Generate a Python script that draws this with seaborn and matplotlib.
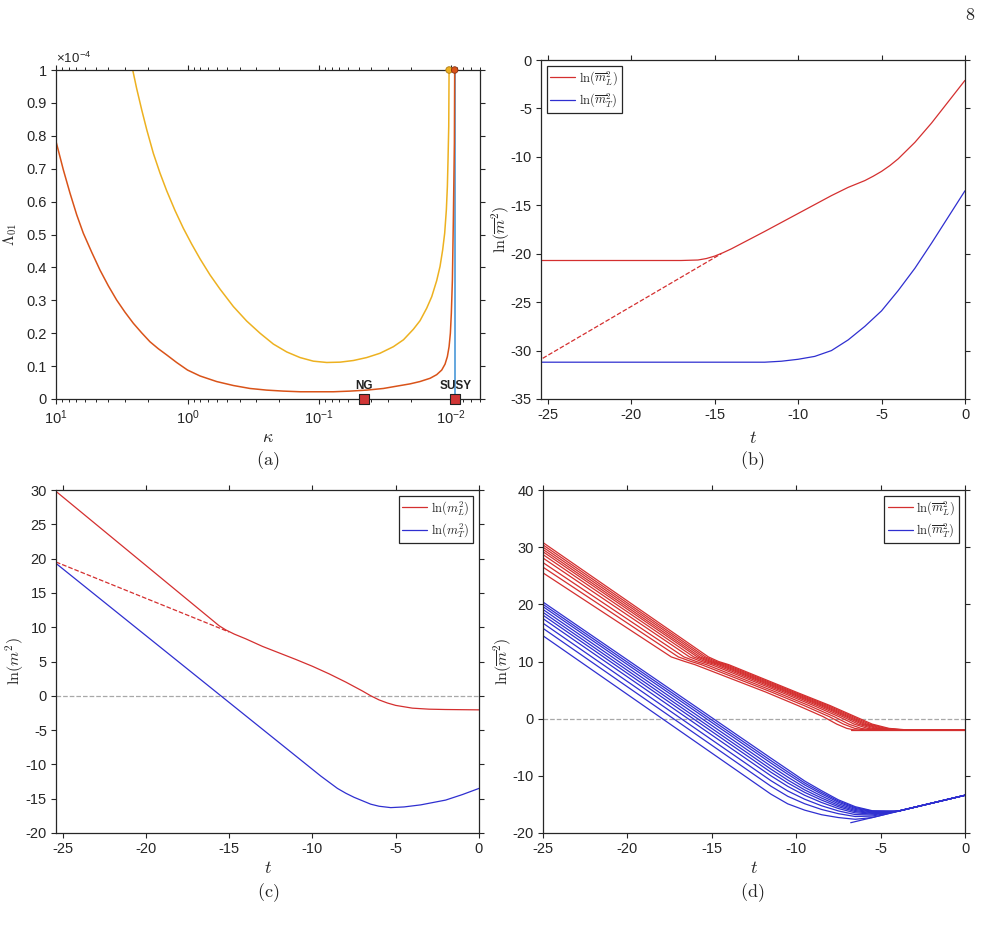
import numpy as np
import pandas as pd
import matplotlib
matplotlib.use('Agg')
import matplotlib.pyplot as plt
import seaborn as sns
from matplotlib.lines import Line2D
from matplotlib.ticker import LogLocator, FuncFormatter, NullFormatter

# ---------------- panel (a): Lambda_01 (x1e-4) vs kappa ----------------
kappa_orange = [10.0, 8.80, 7.83, 6.96, 6.20, 5.35, 4.63, 4.00, 3.46, 2.99, 2.58, 2.23,
                1.93, 1.67, 1.44, 1.21, 1.00, 0.803, 0.600, 0.448, 0.335, 0.250, 0.187,
                0.139, 0.1041, 0.0778, 0.0581, 0.0434, 0.0324, 0.0257, 0.0203, 0.0171,
                0.0143, 0.01274, 0.01167, 0.01101, 0.01057, 0.01026, 0.01003, 0.00986,
                0.00968, 0.00952, 0.00935, 0.00930]
lam_orange = [0.783, 0.697, 0.626, 0.560, 0.504, 0.446, 0.392, 0.344, 0.301, 0.264, 0.230,
              0.201, 0.174, 0.153, 0.134, 0.111, 0.088, 0.070, 0.053, 0.041, 0.032, 0.027,
              0.024, 0.022, 0.022, 0.022, 0.024, 0.027, 0.032, 0.039, 0.046, 0.053, 0.063,
              0.074, 0.088, 0.106, 0.129, 0.159, 0.200, 0.261, 0.362, 0.545, 0.778, 1.0]
kappa_yellow = [2.61, 2.44, 2.23, 2.04, 1.82, 1.62, 1.44, 1.245, 1.076, 0.930, 0.803,
                0.674, 0.566, 0.448, 0.355, 0.281, 0.2225, 0.176, 0.1395, 0.1104, 0.0874,
                0.0692, 0.0548, 0.0434, 0.0344, 0.0272, 0.0228, 0.01917, 0.01706, 0.01518,
                0.01390, 0.01274, 0.01202, 0.01148, 0.01108, 0.01076, 0.01057, 0.01045,
                0.01032, 0.01026]
lam_yellow = [1.0, 0.945, 0.879, 0.818, 0.747, 0.687, 0.633, 0.573, 0.519, 0.471, 0.426,
              0.377, 0.334, 0.281, 0.237, 0.200, 0.167, 0.143, 0.126, 0.115, 0.111, 0.112,
              0.117, 0.126, 0.139, 0.159, 0.180, 0.212, 0.238, 0.276, 0.311, 0.360, 0.403,
              0.453, 0.504, 0.575, 0.646, 0.727, 0.829, 1.0]
kappa_susy_line = [0.00920, 0.00920]
lam_susy_line = [0.0, 1.0]
kappa_points = [0.0452, 0.00920]
point_names = ['NG', 'SUSY']
kappa_dots = [0.01026, 0.00930]

# ---------------- panel (b) ----------------
t_b_red = [-25.4, -17, -16, -15.5, -15, -14.5, -14, -12, -10, -8, -7, -6.5, -6, -5.5, -5,
           -4.5, -4, -3, -2, -1, 0]
y_b_red = [-20.7, -20.7, -20.65, -20.5, -20.25, -19.9, -19.5, -17.7, -15.85, -14.0, -13.15,
           -12.8, -12.45, -12.0, -11.5, -10.9, -10.2, -8.5, -6.5, -4.3, -2.1]
t_b_dash = [-25.3, -14.6]
y_b_dash = [-30.8, -20.0]
t_b_blue = [-25.4, -12, -11, -10, -9, -8, -7, -6, -5, -4, -3, -2, -1, 0]
y_b_blue = [-31.2, -31.2, -31.1, -30.9, -30.6, -30.0, -28.9, -27.5, -25.9, -23.8, -21.5,
            -18.9, -16.2, -13.5]

# ---------------- panel (c) ----------------
t_c_red = [-25.4, -15.6, -15.2, -14.7, -14, -13, -11, -10, -9, -8, -7, -6.5, -6, -5.5, -5,
           -4, -3, -2, 0]
y_c_red = [29.8, 10.2, 9.6, 9.0, 8.3, 7.2, 5.3, 4.3, 3.2, 2.0, 0.7, 0.0, -0.6, -1.05, -1.4,
           -1.8, -1.95, -2.0, -2.05]
t_c_dash = [-25.4, -15.0]
y_c_dash = [19.5, 9.3]
t_c_blue = [-25.4, -9.5, -9, -8.5, -8, -7.5, -7, -6.5, -6, -5.3, -4.5, -3.5, -2, -1, 0]
y_c_blue = [19.3, -11.7, -12.6, -13.5, -14.2, -14.8, -15.3, -15.8, -16.1, -16.3, -16.2,
            -15.9, -15.2, -14.4, -13.5]

# ---------------- panel (d): families ----------------
red_d_start = [30.8, 30.4, 30.0, 29.6, 29.2, 28.7, 28.1, 27.3, 26.5, 25.5]
red_d_knot_y = [10.8, 10.0, 9.45, 4.65, 2.3, 0.35, -0.95, -1.7, -1.95, -2.0, -2.03]
red_d_knot_t = [
    [-15.20, -14.60, -14.00, -10.00, -8.00, -6.50, -5.50, -4.50, -3.50, -2.50, 0],
    [-15.37, -14.75, -14.15, -10.14, -8.14, -6.64, -5.66, -4.69, -3.73, -2.79, 0],
    [-15.53, -14.90, -14.30, -10.27, -8.29, -6.79, -5.82, -4.88, -3.97, -3.07, 0],
    [-15.70, -15.05, -14.45, -10.41, -8.43, -6.93, -5.97, -5.07, -4.20, -3.36, 0],
    [-15.86, -15.20, -14.60, -10.54, -8.57, -7.07, -6.13, -5.26, -4.44, -3.65, 0],
    [-16.07, -15.39, -14.79, -10.71, -8.75, -7.25, -6.33, -5.49, -4.73, -4.00, 0],
    [-16.32, -15.62, -15.02, -10.92, -8.97, -7.47, -6.57, -5.77, -5.08, -4.43, 0],
    [-16.65, -15.92, -15.32, -11.19, -9.25, -7.75, -6.89, -6.15, -5.55, -5.01, 0],
    [-16.98, -16.22, -15.62, -11.46, -9.54, -8.04, -7.20, -6.53, -6.01, -5.58, 0],
    [-17.40, -16.60, -16.00, -11.80, -9.90, -8.40, -7.60, -7.00, -6.60, -6.30, 0],
]
red_d_tail_t = [-6.77, 0]
red_d_tail_y = [-2.03, -2.03]

blue_d_t = [-25, -11.5, -10.5, -9.5, -8.5, -7.5, -6.5, -5.5, -4.0, -2.0, 0]
blue_d_y = [
    [20.4, -6.90, -8.90, -10.90, -12.60, -14.20, -15.40, -16.10, -16.2, -14.8, -13.4],
    [20.0, -7.33, -9.31, -11.25, -12.89, -14.41, -15.55, -16.18, -16.2, -14.8, -13.4],
    [19.6, -7.76, -9.72, -11.59, -13.17, -14.62, -15.70, -16.26, -16.2, -14.8, -13.4],
    [19.1, -8.29, -10.22, -12.02, -13.52, -14.88, -15.88, -16.36, -16.2, -14.8, -13.4],
    [18.6, -8.82, -10.73, -12.46, -13.88, -15.15, -16.07, -16.47, -16.2, -14.8, -13.4],
    [18.1, -9.36, -11.24, -12.89, -14.24, -15.41, -16.26, -16.57, -16.2, -14.8, -13.4],
    [17.5, -9.99, -11.84, -13.40, -14.66, -15.72, -16.48, -16.69, -16.2, -14.8, -13.4],
    [16.7, -10.84, -12.65, -14.09, -15.23, -16.14, -16.78, -16.85, -16.2, -14.8, -13.4],
    [15.8, -11.81, -13.58, -14.88, -15.88, -16.62, -17.12, -17.04, -16.2, -14.8, -13.4],
    [14.5, -13.20, -14.90, -16.00, -16.80, -17.30, -17.60, -17.30, -16.2, -14.8, -13.4],
]
blue_d_tail_t = [-6.77, 0]
blue_d_tail_y = [-18.2, -13.4]

RED = '#d42f2f'
BLUE = '#2f2fd0'
ORANGE = '#d95319'
YELLOW = '#edb120'
SKY = '#3a8fd4'
EDGE = '#262626'

sns.set_theme(style='ticks')
plt.rcParams['font.family'] = ['Liberation Sans', 'DejaVu Sans']
plt.rcParams.update({
    'mathtext.fontset': 'cm',
    'axes.unicode_minus': False,
    'axes.edgecolor': EDGE,
    'axes.linewidth': 0.9,
    'xtick.direction': 'out', 'ytick.direction': 'out',
    'xtick.top': True, 'ytick.right': True,
    'xtick.minor.top': True,
    'xtick.major.size': 3.5, 'ytick.major.size': 3.5,
    'xtick.minor.size': 2.0, 'ytick.minor.size': 2.0,
    'xtick.major.width': 0.8, 'ytick.major.width': 0.8,
    'xtick.minor.width': 0.7,
    'xtick.color': EDGE, 'ytick.color': EDGE,
    'xtick.labelsize': 10.5, 'ytick.labelsize': 10.5,
    'xtick.major.pad': 3, 'ytick.major.pad': 3,
})

fig = plt.figure(figsize=(10.02, 9.26), dpi=100)
W, H = 1002, 926


def box(l, t, r, b):
    return [l / W, 1 - b / H, (r - l) / W, (b - t) / H]


ax_a = fig.add_axes(box(56, 70, 480, 399))
ax_b = fig.add_axes(box(541, 60, 965, 399))
ax_c = fig.add_axes(box(56, 490, 479, 833))
ax_d = fig.add_axes(box(543, 490, 965, 833))

# ---- (a) ----
ax_a.set_xscale('log')
sns.lineplot(x=kappa_susy_line, y=lam_susy_line, ax=ax_a, color=SKY, lw=1.1,
             sort=False, estimator=None)
sns.lineplot(x=kappa_yellow, y=lam_yellow, ax=ax_a, color=YELLOW, lw=1.1,
             sort=False, estimator=None)
sns.lineplot(x=kappa_orange, y=lam_orange, ax=ax_a, color=ORANGE, lw=1.1,
             sort=False, estimator=None)
ax_a.scatter(kappa_dots, [1.0, 1.0], s=22, c=[YELLOW, ORANGE],
             edgecolors=['#b07a10', '#8a3010'], linewidths=0.6, zorder=5, clip_on=False)
ax_a.scatter(kappa_points, [0.0, 0.0], s=60, marker='s', c='#d03535',
             edgecolors='#222222', linewidths=0.8, zorder=6, clip_on=False)
for k, name in zip(kappa_points, point_names):
    ax_a.text(k, 0.02, name, ha='center', va='bottom', fontsize=8.5,
              fontweight='bold', color='#222222')
ax_a.set_xlim(10, 10 ** -2.224)
ax_a.set_ylim(0, 1)
ax_a.xaxis.set_major_locator(LogLocator(base=10, numticks=10))
ax_a.xaxis.set_minor_locator(LogLocator(base=10, subs=np.arange(2, 10), numticks=20))
ax_a.xaxis.set_minor_formatter(NullFormatter())
ax_a.set_yticks([0, 0.1, 0.2, 0.3, 0.4, 0.5, 0.6, 0.7, 0.8, 0.9, 1.0])
ax_a.yaxis.set_major_formatter(FuncFormatter(lambda v, p: f'{v:g}'))
ax_a.set_xlabel(r'$\kappa$', fontsize=13, labelpad=2)
ax_a.set_ylabel(r'$\Lambda_{01}$', fontsize=11)
ax_a.yaxis.set_label_coords(-0.088, 0.5)
ax_a.text(0.0, 1.012, r'×10$^{\mathdefault{-4}}$', transform=ax_a.transAxes,
          fontsize=9.5, ha='left', va='bottom', color=EDGE)

# ---- (b) ----
sns.lineplot(x=t_b_dash, y=y_b_dash, ax=ax_b, color=RED, lw=0.9, ls='--',
             sort=False, estimator=None)
sns.lineplot(x=t_b_red, y=y_b_red, ax=ax_b, color=RED, lw=0.9, sort=False, estimator=None)
sns.lineplot(x=t_b_blue, y=y_b_blue, ax=ax_b, color=BLUE, lw=0.9, sort=False, estimator=None)
ax_b.set_xlim(-25.4, 0)
ax_b.set_ylim(-35, 0)
ax_b.set_xticks([-25, -20, -15, -10, -5, 0])
ax_b.set_yticks([-35, -30, -25, -20, -15, -10, -5, 0])
ax_b.set_xlabel(r'$t$', fontsize=13, labelpad=6)
ax_b.set_ylabel(r'$\ln(\overline{m}^2)$', fontsize=11.5)
ax_b.yaxis.set_label_coords(-0.068, 0.5)

# ---- (c) ----
ax_c.axhline(0, color='#a8a8a8', lw=0.9, ls='--', zorder=0)
sns.lineplot(x=t_c_dash, y=y_c_dash, ax=ax_c, color=RED, lw=0.9, ls='--',
             sort=False, estimator=None)
sns.lineplot(x=t_c_red, y=y_c_red, ax=ax_c, color=RED, lw=0.9, sort=False, estimator=None)
sns.lineplot(x=t_c_blue, y=y_c_blue, ax=ax_c, color=BLUE, lw=0.9, sort=False, estimator=None)
ax_c.set_xlim(-25.4, 0)
ax_c.set_ylim(-20, 30)
ax_c.set_xticks([-25, -20, -15, -10, -5, 0])
ax_c.set_yticks([-20, -15, -10, -5, 0, 5, 10, 15, 20, 25, 30])
ax_c.set_xlabel(r'$t$', fontsize=13, labelpad=3)
ax_c.set_ylabel(r'$\ln(m^2)$', fontsize=11.5)
ax_c.yaxis.set_label_coords(-0.071, 0.5)

# ---- (d) ----
rows = []
for i, (s, ts) in enumerate(zip(red_d_start, red_d_knot_t)):
    rows.append({'curve': i, 't': -25.0, 'y': s})
    for t, y in zip(ts, red_d_knot_y):
        rows.append({'curve': i, 't': t, 'y': y})
for t, y in zip(red_d_tail_t, red_d_tail_y):
    rows.append({'curve': 99, 't': t, 'y': y})
df_red = pd.DataFrame(rows)

rows = []
for i, ys in enumerate(blue_d_y):
    for t, y in zip(blue_d_t, ys):
        rows.append({'curve': i, 't': t, 'y': y})
for t, y in zip(blue_d_tail_t, blue_d_tail_y):
    rows.append({'curve': 99, 't': t, 'y': y})
df_blue = pd.DataFrame(rows)

ax_d.axhline(0, color='#a8a8a8', lw=0.9, ls='--', zorder=0)
sns.lineplot(data=df_red, x='t', y='y', units='curve', estimator=None, ax=ax_d,
             color=RED, lw=0.9, sort=False, legend=False)
sns.lineplot(data=df_blue, x='t', y='y', units='curve', estimator=None, ax=ax_d,
             color=BLUE, lw=0.9, sort=False, legend=False)
ax_d.set_xlim(-25, 0)
ax_d.set_ylim(-20, 40)
ax_d.set_xticks([-25, -20, -15, -10, -5, 0])
ax_d.set_yticks([-20, -10, 0, 10, 20, 30, 40])
ax_d.set_xlabel(r'$t$', fontsize=13, labelpad=3)
ax_d.set_ylabel(r'$\ln(\overline{m}^2)$', fontsize=11.5)
ax_d.yaxis.set_label_coords(-0.069, 0.5)


def add_legend(ax, labels, loc):
    handles = [Line2D([], [], color=RED, lw=0.9), Line2D([], [], color=BLUE, lw=0.9)]
    leg = ax.legend(handles, labels, loc=loc, frameon=True, fancybox=False,
                    framealpha=1, edgecolor=EDGE, fontsize=9, handlelength=2.0,
                    handletextpad=0.3, borderpad=0.3, labelspacing=0.35,
                    borderaxespad=0.45)
    leg.get_frame().set_linewidth(0.9)


add_legend(ax_b, [r'$\ln(\overline{m}^2_L)$', r'$\ln(\overline{m}^2_T)$'], 'upper left')
add_legend(ax_c, [r'$\ln(m^2_L)$', r'$\ln(m^2_T)$'], 'upper right')
add_legend(ax_d, [r'$\ln(\overline{m}^2_L)$', r'$\ln(\overline{m}^2_T)$'], 'upper right')

for ax in (ax_b, ax_c, ax_d):
    ax.yaxis.set_major_formatter(FuncFormatter(lambda v, p: f'{v:g}'))
    ax.xaxis.set_major_formatter(FuncFormatter(lambda v, p: f'{v:g}'))

for ax in (ax_a, ax_b, ax_c, ax_d):
    for sp in ax.spines.values():
        sp.set_visible(True)
        sp.set_color(EDGE)
        sp.set_linewidth(0.9)
    ax.grid(False)

# captions and page number
for x, y, s in [(268, 461, '(a)'), (752, 461, '(b)'), (268, 893, '(c)'), (752, 893, '(d)')]:
    fig.text(x / W, 1 - y / H, r'$\mathrm{' + s + '}$', ha='center', va='center',
             fontsize=13, color='#222222')
fig.text(970 / W, 1 - 16 / H, r'$\mathrm{8}$', ha='center', va='center', fontsize=13,
         color='#222222')

fig.savefig('out.png', dpi=100)
